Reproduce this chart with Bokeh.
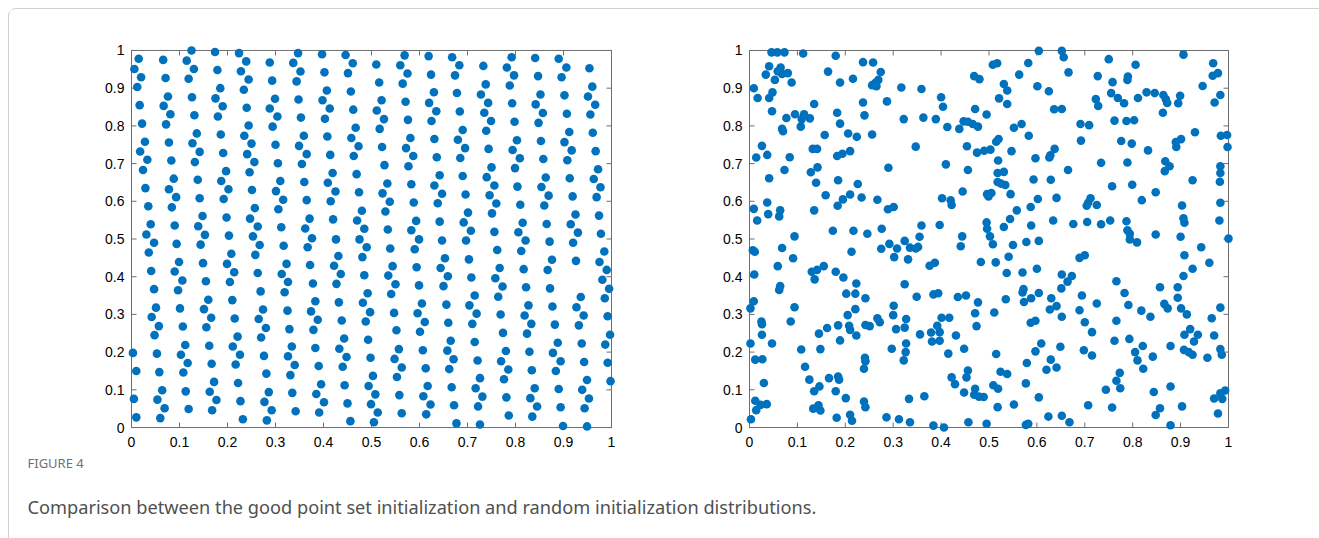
from bokeh.plotting import figure
from bokeh.models import Range1d, FixedTicker
from bokeh.layouts import column, row
from bokeh.embed import file_html
from bokeh.resources import INLINE
from bokeh.core.properties import value

# ---------------- data ----------------
tick_values = [0, 0.1, 0.2, 0.3, 0.4, 0.5, 0.6, 0.7, 0.8, 0.9, 1]
tick_labels = ["0", "0.1", "0.2", "0.3", "0.4", "0.5", "0.6", "0.7", "0.8", "0.9", "1"]

figure_label = "FIGURE 4"
figure_caption = "Comparison between the good point set initialization and random initialization distributions."

# left panel: good point set initialization
good_x_1 = [0.125,0.174,0.224,0.015,0.066,0.115,0.239,0.288,0.006,0.130,
            0.179,0.228,0.020,0.071,0.119,0.244,0.293,0.012,0.185,0.234,
            0.076,0.126,0.175,0.299,0.017,0.067,0.190,0.240,0.288,0.081,
            0.131,0.180,0.304,0.022,0.072,0.244,0.294,0.136,0.186,0.235,
            0.028,0.078,0.127,0.250,0.300,0.018,0.142,0.191,0.241,0.033,
            0.083,0.132,0.256,0.305,0.024,0.197,0.246,0.088,0.138,0.187,
            0.310,0.029,0.078,0.202,0.251,0.301,0.093,0.142,0.192,0.316,
            0.035,0.084,0.257,0.306,0.148,0.198,0.247,0.040,0.090,0.139,
            0.263,0.312,0.031,0.153,0.203,0.253]
good_y_1 = [1.000,0.996,0.993,0.978,0.975,0.973,0.971,0.968,0.951,0.951,
            0.948,0.945,0.929,0.927,0.925,0.923,0.920,0.903,0.900,0.896,
            0.878,0.876,0.873,0.872,0.855,0.853,0.852,0.848,0.846,0.831,
            0.828,0.825,0.825,0.806,0.804,0.801,0.798,0.780,0.777,0.774,
            0.758,0.756,0.754,0.753,0.750,0.732,0.731,0.728,0.725,0.710,
            0.708,0.704,0.704,0.701,0.683,0.680,0.677,0.660,0.657,0.654,
            0.654,0.635,0.632,0.632,0.630,0.627,0.611,0.608,0.606,0.604,
            0.587,0.584,0.582,0.579,0.561,0.557,0.554,0.539,0.536,0.534,
            0.533,0.531,0.512,0.511,0.509,0.507]
good_x_2 = [0.347,0.397,0.446,0.569,0.619,0.337,0.461,0.510,0.560,0.352,
            0.402,0.451,0.575,0.624,0.344,0.516,0.565,0.407,0.457,0.630,
            0.348,0.398,0.521,0.571,0.620,0.413,0.462,0.511,0.635,0.353,
            0.403,0.526,0.576,0.625,0.467,0.517,0.359,0.408,0.458,0.581,
            0.631,0.349,0.473,0.522,0.572,0.365,0.414,0.463,0.587,0.636,
            0.355,0.527,0.577,0.419,0.469,0.642,0.360,0.409,0.533,0.583,
            0.631,0.425,0.474,0.523,0.647,0.365,0.415,0.538,0.588,0.638,
            0.480,0.529,0.371,0.420,0.470,0.593,0.642,0.362,0.485,0.534,
            0.583]
good_y_2 = [0.993,0.990,0.988,0.987,0.985,0.967,0.966,0.963,0.961,0.944,
            0.942,0.940,0.939,0.936,0.918,0.915,0.912,0.894,0.891,0.889,
            0.870,0.868,0.868,0.864,0.861,0.846,0.843,0.841,0.839,0.822,
            0.819,0.818,0.816,0.813,0.795,0.792,0.774,0.772,0.768,0.768,
            0.765,0.747,0.746,0.744,0.741,0.725,0.723,0.720,0.720,0.717,
            0.699,0.696,0.693,0.675,0.672,0.669,0.651,0.649,0.647,0.645,
            0.642,0.626,0.624,0.621,0.620,0.603,0.600,0.599,0.597,0.595,
            0.575,0.573,0.554,0.552,0.549,0.548,0.546,0.528,0.527,0.525,
            0.523]
good_x_3 = [0.668,0.683,0.674,0.733,0.792,0.782,0.797,0.841,0.847,0.890,
            0.906,0.896,0.954,0.738,0.788,0.678,0.728,0.852,0.902,0.960,
            0.951,0.966,0.743,0.793,0.842,0.684,0.735,0.857,0.907,0.956,
            0.749,0.798,0.848,0.690,0.739,0.912,0.961,0.680,0.803,0.853,
            0.902,0.695,0.744,0.794,0.917,0.967,0.685,0.809,0.858,0.908,
            0.750,0.799,0.972,0.690,0.740,0.863,0.913,0.963,0.756,0.804,
            0.854,0.977,0.696,0.746,0.869,0.919,0.969,0.760,0.810,0.860,
            0.701,0.751,0.925,0.974,0.815,0.865,0.915,0.692,0.707,0.756,
            0.806,0.930,0.978]
good_y_3 = [0.982,0.961,0.934,0.959,0.982,0.955,0.934,0.980,0.932,0.978,
            0.955,0.929,0.953,0.910,0.907,0.887,0.883,0.883,0.881,0.904,
            0.878,0.856,0.861,0.860,0.857,0.838,0.835,0.834,0.832,0.830,
            0.813,0.811,0.808,0.789,0.787,0.784,0.782,0.763,0.762,0.760,
            0.757,0.741,0.739,0.736,0.735,0.733,0.715,0.714,0.712,0.709,
            0.690,0.688,0.685,0.667,0.664,0.663,0.661,0.659,0.642,0.639,
            0.638,0.637,0.618,0.616,0.615,0.613,0.611,0.594,0.591,0.589,
            0.570,0.568,0.565,0.562,0.543,0.540,0.539,0.544,0.522,0.519,
            0.518,0.517,0.514]
good_x_4 = [0.047,0.094,0.144,0.267,0.317,0.036,0.208,0.258,0.099,0.149,
            0.199,0.041,0.090,0.214,0.263,0.313,0.106,0.155,0.205,0.047,
            0.097,0.269,0.319,0.160,0.210,0.051,0.101,0.151,0.274,0.042,
            0.166,0.215,0.265,0.057,0.107,0.156,0.280,0.048,0.221,0.270,
            0.112,0.162,0.211,0.003,0.053,0.103,0.226,0.276,0.117,0.167,
            0.217,0.010,0.058,0.108,0.281,0.172,0.222,0.064,0.113,0.163,
            0.286,0.005,0.054,0.177,0.227,0.277,0.069,0.119,0.168,0.292,
            0.010,0.060,0.232,0.282]
good_y_4 = [0.490,0.487,0.485,0.484,0.482,0.464,0.461,0.458,0.439,0.436,
            0.434,0.415,0.414,0.412,0.410,0.407,0.390,0.388,0.386,0.367,
            0.364,0.361,0.359,0.339,0.338,0.318,0.316,0.314,0.313,0.293,
            0.291,0.289,0.288,0.269,0.268,0.266,0.264,0.245,0.241,0.239,
            0.219,0.217,0.215,0.198,0.196,0.193,0.193,0.190,0.171,0.169,
            0.167,0.150,0.147,0.146,0.143,0.121,0.118,0.099,0.096,0.095,
            0.094,0.076,0.074,0.073,0.070,0.068,0.051,0.049,0.046,0.046,
            0.027,0.025,0.022,0.019]
good_x_5 = [0.376,0.426,0.475,0.599,0.647,0.367,0.490,0.539,0.590,0.431,
            0.481,0.653,0.323,0.372,0.422,0.544,0.594,0.644,0.436,0.485,
            0.535,0.326,0.378,0.427,0.550,0.599,0.650,0.492,0.541,0.383,
            0.432,0.482,0.605,0.325,0.374,0.497,0.547,0.596,0.388,0.438,
            0.488,0.611,0.329,0.379,0.552,0.601,0.443,0.493,0.334,0.383,
            0.433,0.557,0.607,0.326,0.448,0.498,0.548,0.340,0.390,0.440,
            0.563,0.613,0.331,0.503,0.553,0.395,0.444,0.494,0.617,0.335,
            0.385,0.508,0.558,0.608,0.401,0.450,0.499,0.623,0.342,0.391,
            0.513,0.563,0.614,0.456,0.505]
good_y_5 = [0.502,0.499,0.499,0.499,0.496,0.478,0.478,0.475,0.473,0.455,
            0.452,0.449,0.434,0.431,0.429,0.428,0.425,0.423,0.407,0.404,
            0.403,0.386,0.382,0.381,0.380,0.377,0.375,0.356,0.354,0.335,
            0.332,0.331,0.329,0.310,0.308,0.306,0.304,0.303,0.286,0.284,
            0.281,0.280,0.261,0.259,0.258,0.254,0.236,0.233,0.215,0.211,
            0.209,0.208,0.205,0.189,0.187,0.185,0.182,0.166,0.163,0.161,
            0.159,0.157,0.139,0.137,0.134,0.115,0.112,0.110,0.110,0.092,
            0.089,0.088,0.086,0.083,0.067,0.064,0.062,0.061,0.043,0.040,
            0.040,0.038,0.035,0.017,0.014]
good_x_6 = [0.697,0.821,0.871,0.920,0.762,0.812,0.985,0.703,0.876,0.926,
            0.975,0.767,0.817,0.867,0.990,0.659,0.708,0.758,0.773,0.822,
            0.872,0.981,0.995,0.715,0.764,0.936,0.986,0.656,0.704,0.827,
            0.877,0.927,0.719,0.769,0.819,0.942,0.992,0.660,0.710,0.833,
            0.882,0.932,0.774,0.824,0.997,0.665,0.715,0.888,0.938,0.987,
            0.658,0.780,0.829,0.878,0.671,0.721,0.770,0.894,0.943,0.992,
            0.662,0.785,0.834,0.884,0.726,0.776,0.949,0.998,0.667,0.717,
            0.840,0.890,0.939,0.731,0.781,0.831,0.953,0.672,0.722,0.845,
            0.894,0.944,0.786,0.835,0.677,0.726,0.899,0.949]
good_y_6 = [0.496,0.496,0.493,0.490,0.471,0.468,0.467,0.446,0.445,0.442,
            0.439,0.423,0.420,0.418,0.418,0.401,0.398,0.396,0.374,0.372,
            0.369,0.392,0.368,0.350,0.347,0.346,0.343,0.326,0.324,0.324,
            0.321,0.319,0.302,0.300,0.297,0.297,0.295,0.278,0.275,0.275,
            0.273,0.271,0.251,0.249,0.246,0.230,0.227,0.225,0.223,0.220,
            0.204,0.203,0.201,0.198,0.181,0.178,0.176,0.176,0.174,0.172,
            0.155,0.154,0.152,0.150,0.131,0.128,0.126,0.123,0.107,0.104,
            0.104,0.102,0.100,0.082,0.080,0.078,0.077,0.059,0.056,0.056,
            0.054,0.051,0.032,0.029,0.011,0.008,0.004,0.003]

# right panel: random initialization
rand_x_1 = [0.046,0.058,0.073,0.112,0.180,0.041,0.065,0.034,0.059,0.068,
            0.080,0.053,0.088,0.164,0.189,0.216,0.237,0.258,0.274,0.269,
            0.263,0.256,0.265,0.009,0.017,0.048,0.041,0.047,0.135,0.183,
            0.237,0.240,0.287,0.095,0.077,0.114,0.109,0.126,0.107,0.068,
            0.070,0.189,0.157,0.206,0.224,0.256,0.026,0.014,0.037,0.132,
            0.141,0.183,0.194,0.210,0.084,0.073,0.142,0.128,0.139,0.290,
            0.041,0.185,0.226,0.159,0.195,0.210,0.184,0.234,0.267,0.037,
            0.009,0.016,0.039,0.064,0.062,0.135,0.289,0.301,0.174,0.217,
            0.246,0.276]
rand_y_1 = [0.995,0.995,0.995,0.992,0.986,0.958,0.955,0.936,0.945,0.938,
            0.940,0.922,0.915,0.944,0.915,0.925,0.969,0.968,0.943,0.922,
            0.914,0.908,0.905,0.900,0.874,0.889,0.874,0.839,0.858,0.835,
            0.862,0.828,0.865,0.831,0.821,0.831,0.818,0.820,0.798,0.792,
            0.786,0.806,0.776,0.780,0.771,0.777,0.747,0.716,0.723,0.739,
            0.739,0.720,0.726,0.733,0.717,0.683,0.690,0.677,0.649,0.689,
            0.661,0.656,0.646,0.616,0.605,0.618,0.588,0.610,0.604,0.597,
            0.580,0.549,0.566,0.576,0.560,0.576,0.579,0.585,0.522,0.522,
            0.514,0.527]
rand_x_2 = [0.604,0.508,0.517,0.582,0.563,0.469,0.480,0.317,0.359,0.400,
            0.404,0.531,0.538,0.521,0.538,0.601,0.625,0.636,0.322,0.363,
            0.389,0.471,0.495,0.413,0.438,0.447,0.456,0.466,0.477,0.552,
            0.568,0.583,0.520,0.515,0.347,0.454,0.475,0.490,0.503,0.547,
            0.637,0.628,0.626,0.597,0.410,0.519,0.456,0.518,0.531,0.593,
            0.629,0.518,0.525,0.534,0.445,0.402,0.420,0.422,0.496,0.499,
            0.505,0.545,0.602,0.641,0.558,0.587,0.544,0.634,0.359,0.397,
            0.495,0.496,0.531,0.588]
rand_y_2 = [0.999,0.962,0.966,0.967,0.936,0.932,0.924,0.902,0.898,0.876,
            0.851,0.911,0.894,0.873,0.858,0.905,0.892,0.844,0.818,0.822,
            0.818,0.845,0.830,0.797,0.792,0.812,0.811,0.805,0.798,0.795,
            0.805,0.774,0.765,0.758,0.745,0.746,0.729,0.734,0.737,0.733,
            0.739,0.722,0.716,0.714,0.698,0.708,0.683,0.675,0.678,0.658,
            0.657,0.651,0.647,0.643,0.626,0.608,0.603,0.590,0.619,0.613,
            0.622,0.619,0.606,0.609,0.576,0.585,0.553,0.549,0.536,0.537,
            0.544,0.527,0.532,0.536]
rand_x_3 = [0.652,0.656,0.750,0.906,0.806,0.968,0.666,0.727,0.790,0.789,
            0.758,0.967,0.978,0.946,0.755,0.769,0.723,0.728,0.782,0.811,
            0.829,0.846,0.864,0.869,0.872,0.899,0.895,0.983,0.971,0.652,
            0.863,0.762,0.787,0.803,0.691,0.709,0.692,0.776,0.798,0.832,
            0.930,0.890,0.901,0.891,0.984,0.997,0.998,0.734,0.789,0.868,
            0.877,0.867,0.983,0.983,0.982,0.665,0.925,0.757,0.799,0.848,
            0.819,0.712,0.707,0.704,0.725,0.903,0.983,0.906,0.908,0.981,
            0.676,0.705,0.734,0.753,0.787,0.789,0.794,0.848]
rand_y_3 = [0.999,0.982,0.977,0.989,0.962,0.966,0.942,0.932,0.931,0.922,
            0.916,0.933,0.940,0.906,0.887,0.874,0.871,0.853,0.860,0.874,
            0.889,0.887,0.882,0.871,0.861,0.880,0.860,0.882,0.862,0.845,
            0.835,0.814,0.813,0.815,0.805,0.802,0.761,0.760,0.753,0.735,
            0.783,0.757,0.765,0.744,0.774,0.776,0.744,0.702,0.703,0.706,
            0.693,0.680,0.693,0.675,0.652,0.683,0.656,0.640,0.644,0.624,
            0.603,0.608,0.596,0.588,0.590,0.589,0.596,0.555,0.543,0.549,
            0.540,0.545,0.539,0.549,0.547,0.523,0.514,0.512]
rand_x_4 = [0.094,0.007,0.011,0.068,0.091,0.059,0.010,0.064,0.062,0.130,
            0.141,0.155,0.136,0.180,0.196,0.223,0.202,0.221,0.242,0.275,
            0.292,0.308,0.302,0.213,0.009,0.002,0.094,0.086,0.025,0.026,
            0.026,0.002,0.047,0.012,0.027,0.030,0.108,0.116,0.125,0.135,
            0.146,0.166,0.185,0.187,0.180,0.201,0.133,0.144,0.148,0.182,
            0.210,0.214,0.145,0.148,0.162,0.185,0.189,0.205,0.208,0.210,
            0.221,0.223,0.242,0.251,0.267,0.272,0.241,0.242,0.239,0.239,
            0.242,0.286,0.312,0.012,0.014,0.023,0.036,0.003,0.301,0.300,
            0.306,0.297]
rand_y_4 = [0.507,0.470,0.466,0.476,0.449,0.428,0.406,0.375,0.365,0.413,
            0.418,0.428,0.393,0.413,0.398,0.382,0.355,0.355,0.343,0.474,
            0.487,0.475,0.452,0.466,0.335,0.316,0.319,0.281,0.281,0.274,
            0.246,0.223,0.223,0.180,0.181,0.118,0.207,0.161,0.127,0.096,
            0.109,0.131,0.135,0.127,0.096,0.078,0.050,0.059,0.045,0.026,
            0.034,0.018,0.249,0.208,0.264,0.271,0.231,0.298,0.270,0.259,
            0.314,0.244,0.272,0.269,0.290,0.279,0.185,0.176,0.156,0.069,
            0.054,0.027,0.022,0.071,0.046,0.060,0.062,0.022,0.323,0.298,
            0.261,0.209]
rand_x_5 = [0.355,0.444,0.502,0.324,0.335,0.347,0.352,0.441,0.508,0.550,
            0.578,0.604,0.331,0.376,0.387,0.483,0.514,0.541,0.537,0.570,
            0.600,0.324,0.349,0.384,0.394,0.435,0.452,0.477,0.471,0.474,
            0.511,0.535,0.572,0.570,0.573,0.588,0.604,0.630,0.627,0.641,
            0.327,0.324,0.356,0.379,0.397,0.401,0.417,0.392,0.381,0.397,
            0.431,0.587,0.597,0.609,0.597,0.327,0.326,0.322,0.415,0.448,
            0.515,0.579,0.629,0.620,0.641,0.524,0.538,0.422,0.429,0.456,
            0.453,0.448,0.471,0.469,0.479,0.489,0.509,0.519,0.577,0.604,
            0.333,0.365,0.518,0.552,0.624,0.335,0.384,0.406,0.457,0.495,
            0.577,0.582]
rand_y_5 = [0.506,0.507,0.507,0.495,0.477,0.475,0.479,0.481,0.486,0.484,
            0.492,0.495,0.446,0.429,0.437,0.439,0.438,0.453,0.410,0.411,
            0.421,0.380,0.347,0.353,0.356,0.346,0.350,0.332,0.303,0.269,
            0.305,0.340,0.367,0.358,0.333,0.343,0.357,0.343,0.313,0.322,
            0.288,0.265,0.247,0.252,0.253,0.291,0.291,0.270,0.228,0.230,
            0.244,0.278,0.283,0.223,0.202,0.223,0.200,0.178,0.196,0.209,
            0.195,0.171,0.180,0.153,0.159,0.148,0.142,0.133,0.115,0.151,
            0.133,0.093,0.103,0.087,0.082,0.081,0.112,0.103,0.117,0.080,
            0.076,0.083,0.054,0.061,0.029,0.014,0.005,0.000,0.014,0.010,
            0.007,0.010]
rand_x_6 = [0.794,0.809,0.900,1.000,0.943,0.908,0.689,0.700,0.960,0.925,
            0.906,0.652,0.664,0.673,0.651,0.766,0.857,0.894,0.894,0.783,
            0.694,0.725,0.791,0.818,0.866,0.873,0.901,0.913,0.983,0.965,
            0.837,0.689,0.652,0.700,0.766,0.715,0.920,0.908,0.936,0.928,
            0.970,0.762,0.793,0.821,0.805,0.810,0.822,0.842,0.879,0.698,
            0.715,0.649,0.907,0.917,0.925,0.956,0.983,0.986,0.773,0.766,
            0.774,0.744,0.879,0.844,0.857,0.848,0.903,0.707,0.757,0.652,
            0.668,0.879,0.970,0.983,0.993,0.987,0.978]
rand_y_6 = [0.499,0.491,0.506,0.501,0.478,0.457,0.450,0.457,0.437,0.421,
            0.402,0.406,0.387,0.402,0.369,0.388,0.372,0.372,0.344,0.357,
            0.350,0.329,0.325,0.310,0.328,0.316,0.316,0.300,0.318,0.290,
            0.294,0.311,0.294,0.279,0.283,0.253,0.261,0.246,0.246,0.228,
            0.244,0.230,0.235,0.216,0.200,0.178,0.156,0.188,0.216,0.205,
            0.191,0.214,0.206,0.200,0.193,0.185,0.208,0.193,0.145,0.124,
            0.104,0.100,0.109,0.094,0.051,0.033,0.056,0.059,0.053,0.031,
            0.014,0.006,0.077,0.091,0.098,0.076,0.037]

good_x = good_x_1 + good_x_2 + good_x_3 + good_x_4 + good_x_5 + good_x_6
good_y = good_y_1 + good_y_2 + good_y_3 + good_y_4 + good_y_5 + good_y_6
rand_x = rand_x_1 + rand_x_2 + rand_x_3 + rand_x_4 + rand_x_5 + rand_x_6
rand_y = rand_y_1 + rand_y_2 + rand_y_3 + rand_y_4 + rand_y_5 + rand_y_6

# ---------------- styling ----------------
DOT_COLOR = "#0072BD"
AXIS_COLOR = "#6e6e6e"
TICK_FONT = "Liberation Sans"
PAD = 5          # px of white space between the box and the clipping frame
TICK_LEN = 5     # px, inward ticks
OFF = 9          # page offset of the framed content (8px margin + 1px border)


def make_panel(xs, ys, width, height, box_left, box_top, box_w, box_h):
    mx = PAD / box_w
    my = PAD / box_h
    frame_w = box_w + 2 * PAD
    frame_h = box_h + 2 * PAD
    bl = box_left - PAD
    bt = box_top - PAD
    p = figure(width=width, height=height,
               x_range=Range1d(-mx, 1 + mx), y_range=Range1d(-my, 1 + my),
               output_backend="svg", toolbar_location=None,
               min_border_left=bl, min_border_top=bt,
               min_border_right=width - bl - frame_w,
               min_border_bottom=height - bt - frame_h)
    p.grid.visible = False
    p.outline_line_color = None
    p.background_fill_color = "white"
    p.border_fill_color = "white"
    for ax in (p.xaxis[0], p.yaxis[0]):
        ax.ticker = FixedTicker(ticks=tick_values)
        ax.major_label_overrides = {v: s for v, s in zip(tick_values, tick_labels)}
        ax.axis_line_color = None
        ax.major_tick_line_color = None
        ax.minor_tick_line_color = None
        ax.major_tick_in = 0
        ax.major_tick_out = 0
        ax.minor_tick_in = 0
        ax.minor_tick_out = 0
        ax.major_label_text_font = TICK_FONT
        ax.major_label_text_font_size = "14px"
        ax.major_label_text_color = "#000000"
    p.xaxis.major_label_standoff = 4
    p.yaxis.major_label_standoff = 2

    # axes box (drawn under the dots, as in the source)
    p.quad(left=[0], right=[1], bottom=[0], top=[1],
           fill_color=None, line_color=AXIS_COLOR, line_width=1)
    # inward ticks on all four sides
    lx = TICK_LEN / box_w
    ly = TICK_LEN / box_h
    n = len(tick_values)
    p.segment(x0=tick_values, y0=[0] * n, x1=tick_values, y1=[ly] * n,
              line_color=AXIS_COLOR, line_width=1)
    p.segment(x0=tick_values, y0=[1] * n, x1=tick_values, y1=[1 - ly] * n,
              line_color=AXIS_COLOR, line_width=1)
    p.segment(x0=[0] * n, y0=tick_values, x1=[lx] * n, y1=tick_values,
              line_color=AXIS_COLOR, line_width=1)
    p.segment(x0=[1] * n, y0=tick_values, x1=[1 - lx] * n, y1=tick_values,
              line_color=AXIS_COLOR, line_width=1)

    p.scatter(xs, ys, size=8.6, marker="circle",
              fill_color=DOT_COLOR, line_color=None)
    return p


ROW_H = 455 - OFF
p1 = make_panel(good_x, good_y, width=680 - OFF, height=ROW_H,
                box_left=131 - OFF, box_top=47 - OFF, box_w=480, box_h=380)
p2 = make_panel(rand_x, rand_y, width=639, height=ROW_H,
                box_left=69, box_top=50 - OFF, box_w=479, box_h=378)

CAP_H = 538 - OFF - ROW_H
cap = figure(width=1319 - OFF, height=CAP_H, x_range=Range1d(0, 1319 - OFF),
             y_range=Range1d(CAP_H, 0), output_backend="svg",
             toolbar_location=None, x_axis_type=None, y_axis_type=None,
             min_border=0)
cap.grid.visible = False
cap.outline_line_color = None
cap.text(x=[27 - OFF], y=[7], text=[figure_label], text_font=value("Noto Sans"),
         text_font_size="13px", text_color="#707070", text_baseline="middle",
         text_align="left")
cap.text(x=[27 - OFF], y=[51], text=[figure_caption], text_font=value("Noto Sans"),
         text_font_size="18.2px", text_color="#505050", text_baseline="middle",
         text_align="left")

layout = column(row(p1, p2), cap,
                styles={"margin-left": "8px", "margin-top": "8px",
                        "border-top": "1px solid #cfcfcf",
                        "border-left": "1px solid #cfcfcf",
                        "border-top-left-radius": "8px"})
open("out.html", "w").write(file_html(layout, INLINE))
